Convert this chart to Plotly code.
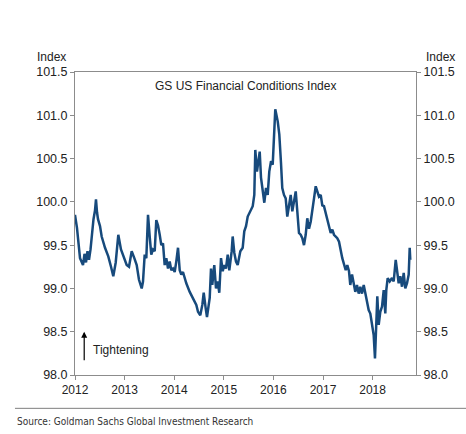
import plotly.graph_objects as go

# time in decimal years and index values
years = [
    2012.000, 2012.040, 2012.101, 2012.131, 2012.161, 2012.192, 2012.222, 2012.252,
    2012.282, 2012.313, 2012.337, 2012.373, 2012.403, 2012.423, 2012.444, 2012.464,
    2012.504, 2012.538, 2012.605, 2012.671, 2012.726, 2012.772, 2012.821, 2012.873,
    2012.927, 2012.974, 2013.042, 2013.089, 2013.143, 2013.196, 2013.244, 2013.290,
    2013.345, 2013.371, 2013.405, 2013.438, 2013.472, 2013.506, 2013.538, 2013.573,
    2013.607, 2013.639, 2013.673, 2013.708, 2013.740, 2013.774, 2013.808, 2013.841,
    2013.875, 2013.909, 2013.942, 2013.976, 2014.010, 2014.042, 2014.077, 2014.111,
    2014.143, 2014.177, 2014.212, 2014.244, 2014.313, 2014.379, 2014.446, 2014.480,
    2014.526, 2014.567, 2014.595, 2014.635, 2014.661, 2014.716, 2014.742, 2014.768,
    2014.808, 2014.843, 2014.877, 2014.909, 2014.944, 2014.978, 2015.010, 2015.044,
    2015.079, 2015.111, 2015.159, 2015.179, 2015.212, 2015.246, 2015.280, 2015.333,
    2015.381, 2015.413, 2015.448, 2015.482, 2015.534, 2015.583, 2015.615, 2015.635,
    2015.669, 2015.696, 2015.724, 2015.750, 2015.784, 2015.817, 2015.851, 2015.885,
    2015.917, 2015.952, 2015.986, 2016.018, 2016.038, 2016.087, 2016.119, 2016.153,
    2016.179, 2016.214, 2016.248, 2016.280, 2016.315, 2016.349, 2016.381, 2016.415,
    2016.450, 2016.482, 2016.516, 2016.550, 2016.583, 2016.617, 2016.651, 2016.683,
    2016.718, 2016.752, 2016.784, 2016.819, 2016.853, 2016.885, 2016.919, 2016.954,
    2016.986, 2017.020, 2017.054, 2017.087, 2017.121, 2017.155, 2017.188, 2017.222,
    2017.288, 2017.323, 2017.389, 2017.423, 2017.458, 2017.490, 2017.524, 2017.550,
    2017.585, 2017.619, 2017.651, 2017.685, 2017.720, 2017.752, 2017.786, 2017.821,
    2017.853, 2017.887, 2017.921, 2017.954, 2017.988, 2018.022, 2018.048, 2018.075,
    2018.095, 2018.123, 2018.155, 2018.190, 2018.224, 2018.256, 2018.276, 2018.304,
    2018.345, 2018.391, 2018.425, 2018.466, 2018.492, 2018.526, 2018.558, 2018.593,
    2018.627, 2018.659, 2018.694, 2018.728, 2018.748, 2018.760,
]

fci = [
    99.85, 99.70, 99.35, 99.30, 99.27, 99.40, 99.30, 99.43,
    99.33, 99.45, 99.60, 99.80, 99.90, 100.03, 99.88, 99.80,
    99.72, 99.60, 99.47, 99.37, 99.25, 99.14, 99.30, 99.62,
    99.45, 99.37, 99.27, 99.25, 99.43, 99.35, 99.27, 99.10,
    99.00, 99.08, 99.39, 99.35, 99.85, 99.60, 99.39, 99.45,
    99.43, 99.79, 99.73, 99.62, 99.50, 99.52, 99.27, 99.35,
    99.23, 99.31, 99.21, 99.23, 99.19, 99.31, 99.47, 99.21,
    99.16, 99.19, 99.12, 99.06, 98.96, 98.89, 98.81, 98.73,
    98.69, 98.81, 98.95, 98.77, 98.67, 98.89, 99.23, 99.04,
    99.27, 99.00, 99.08, 98.95, 99.35, 99.20, 99.27, 99.23,
    99.39, 99.21, 99.43, 99.60, 99.41, 99.31, 99.27, 99.43,
    99.47, 99.66, 99.72, 99.83, 99.89, 99.95, 100.08, 100.60,
    100.35, 100.45, 100.58, 100.28, 100.12, 99.99, 100.16, 100.08,
    100.35, 100.47, 100.43, 100.89, 101.07, 100.93, 100.78, 100.45,
    100.16, 100.08, 100.04, 99.83, 99.98, 100.08, 99.89, 100.00,
    100.12, 99.89, 99.64, 99.62, 99.58, 99.50, 99.62, 99.81,
    99.69, 99.77, 99.93, 100.04, 100.18, 100.12, 100.06, 100.08,
    99.96, 99.95, 99.87, 99.81, 99.74, 99.64, 99.68, 99.62,
    99.58, 99.54, 99.35, 99.27, 99.21, 99.27, 99.20, 99.04,
    99.16, 99.06, 98.96, 99.04, 98.94, 99.02, 98.94, 99.04,
    98.94, 98.81, 98.75, 98.71, 98.60, 98.46, 98.19, 98.54,
    98.91, 98.58, 98.73, 98.79, 98.98, 98.71, 98.98, 99.12,
    99.08, 99.12, 99.08, 99.33, 99.20, 99.06, 99.14, 99.02,
    99.18, 99.00, 99.06, 99.16, 99.47, 99.33,
]

y_ticks = [98.0, 98.5, 99.0, 99.5, 100.0, 100.5, 101.0, 101.5]
x_ticks = [2012, 2013, 2014, 2015, 2016, 2017, 2018]
x_labels = ["2012", "2013", "2014", "2015", "2016", "2017", "2018"]

LINE = "#174a7c"
AX = "#8c8c8c"
FONT = "Liberation Sans, Arial, sans-serif"

fig = go.Figure()
fig.add_trace(go.Scatter(x=years, y=fci, mode="lines",
                         line=dict(color=LINE, width=2.5), showlegend=False))
fig.add_trace(go.Scatter(x=years, y=fci, mode="lines", yaxis="y2",
                         line=dict(color=LINE, width=0), opacity=0,
                         showlegend=False, hoverinfo="skip"))

yax = dict(range=[98.0, 101.5], tickvals=y_ticks, tickformat=".1f",
           ticks="outside", ticklen=4, tickcolor=AX, showline=True,
           linecolor=AX, linewidth=1, showgrid=False, zeroline=False,
           tickfont=dict(size=12.5, color="#222", family=FONT))

fig.update_layout(
    width=466, height=434,
    margin=dict(l=75, r=50, t=72, b=59),
    paper_bgcolor="white", plot_bgcolor="white",
    font=dict(family=FONT, size=12, color="#222"),
    xaxis=dict(range=[2012.0, 2018.875], tickvals=x_ticks,
               ticktext=x_labels, ticks="outside", ticklen=4, tickcolor=AX,
               showline=True, linecolor=AX, linewidth=1, mirror=True,
               showgrid=False, zeroline=False,
               tickfont=dict(size=12, color="#222", family=FONT)),
    yaxis=yax,
    yaxis2=dict(yax, overlaying="y", side="right"),
    showlegend=False,
)

fig.add_annotation(text="GS US Financial Conditions Index", xref="paper", yref="paper",
                   x=0.501, y=0.955, yanchor="middle", showarrow=False, font=dict(size=12))
fig.add_annotation(text="Index", xref="paper", yref="paper", x=-0.0205, y=1.049,
                   xanchor="right", yanchor="middle", showarrow=False, font=dict(size=12))
fig.add_annotation(text="Index", xref="paper", yref="paper", x=1.0235, y=1.049,
                   xanchor="left", yanchor="middle", showarrow=False, font=dict(size=12))
fig.add_annotation(text="Tightening", xref="paper", yref="paper", x=0.046, y=0.0825,
                   xanchor="left", yanchor="middle", showarrow=False, font=dict(size=12))
fig.add_annotation(x=0.027, y=0.143, ax=0, ay=30, xref="paper", yref="paper",
                   text="", showarrow=True,
                   arrowhead=2, arrowsize=1, arrowwidth=1.2, arrowcolor="#000")
fig.add_shape(type="line", xref="paper", yref="paper", x0=-0.176, x1=1.15,
              y0=-0.11, y1=-0.11, line=dict(color="#7f7f7f", width=1))
fig.add_annotation(text="Source: Goldman Sachs Global Investment Research",
                   xref="paper", yref="paper", x=-0.176, y=-0.155, xanchor="left",
                   yanchor="middle", showarrow=False,
                   font=dict(size=10, color="#333",
                             family="DejaVu Sans Condensed, sans-serif"))

fig.write_html("out.html", config={"displayModeBar": False},
               post_script="document.body.style.margin='0';")
